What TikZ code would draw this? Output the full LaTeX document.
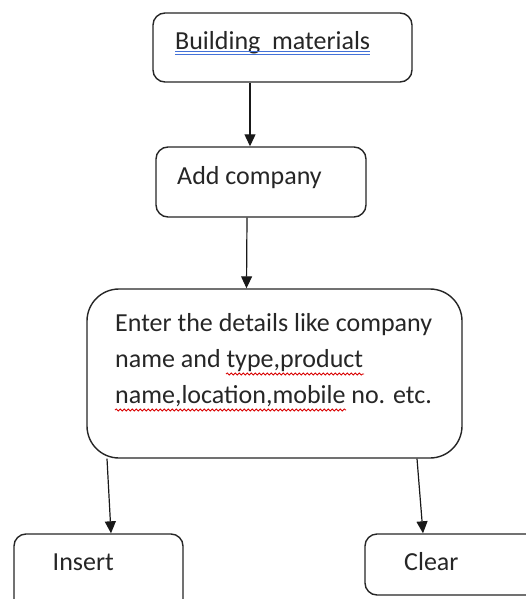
\documentclass[tikz,border=0pt]{standalone}
\usepackage{fontspec}
\setmainfont{Carlito}
\usetikzlibrary{arrows.meta,decorations.pathmorphing}

\begin{document}
\begin{tikzpicture}[
        x=1pt, y=-1pt,
        % Stili generali
        label/.style={font=\fontsize{26}{36}\selectfont, text=black!85, inner sep=0pt, anchor=base west},
        box/.style={draw=black!85, line width=1.4pt, fill=white, rounded corners=12pt},
        arrow/.style={-{Triangle[length=12pt,width=11pt]}, line width=1.2pt, draw=black!90},
        spell/.style={red!85!black, line width=0.8pt, decorate, decoration={snake, amplitude=1.1pt, segment length=4pt}},
        grammar/.style={draw={rgb,255:red,68;green,114;blue,216}, line width=1pt}
    ]

    % 0. Area visibile
    \clip (0, 0) rectangle (526, 599);

    % 1. Riquadri
    \node[box, minimum width=259pt, minimum height=69pt] (materials) at (282.5, 47.5) {};
    \node[box, minimum width=210pt, minimum height=70pt] (company) at (261, 182) {};
    \node[box, rounded corners=32pt, minimum width=375pt, minimum height=169pt] (details) at (274.5, 373.5) {};
    \node[box, minimum width=169pt, minimum height=90pt] (insert) at (98.5, 579) {};
    \node[box, minimum width=195pt, minimum height=61pt] (clear) at (462.5, 564.5) {};

    % 2. Testi
    \node[label] (materialstext) at (175, 50) {Building\ \ materials};
    \node[label] (companytext) at (177, 184) {Add company};
    \node[label, align=left, anchor=north west] (detailstext) at (115, 313) {Enter the details like company\\name and type,product\\name,location,mobile no. etc.};
    \node[label] (inserttext) at (52.5, 570) {Insert};
    \node[label] (cleartext) at (404, 570) {Clear};

    % 3. Sottolineature (correttore)
    \draw[grammar] ([yshift=-2pt]materialstext.base west) -- ([yshift=-2pt]materialstext.base east);
    \draw[grammar] ([yshift=-5pt]materialstext.base west) -- ([yshift=-5pt]materialstext.base east);
    \draw[spell] (226, 374) -- (364, 374);
    \draw[spell] (115, 410) -- (346, 410);

    % 4. Frecce
    \draw[arrow] ([xshift=-32.5pt]materials.south) -- ([xshift=-11pt]company.north);
    \draw[arrow] ([xshift=-14pt]company.south) -- ([xshift=-28pt]details.north);
    \draw[arrow] ([xshift=-167.5pt]details.south) -- ([xshift=12.5pt]insert.north);
    \draw[arrow] ([xshift=142.5pt]details.south) -- ([xshift=-39.5pt]clear.north);

\end{tikzpicture}
\end{document}
